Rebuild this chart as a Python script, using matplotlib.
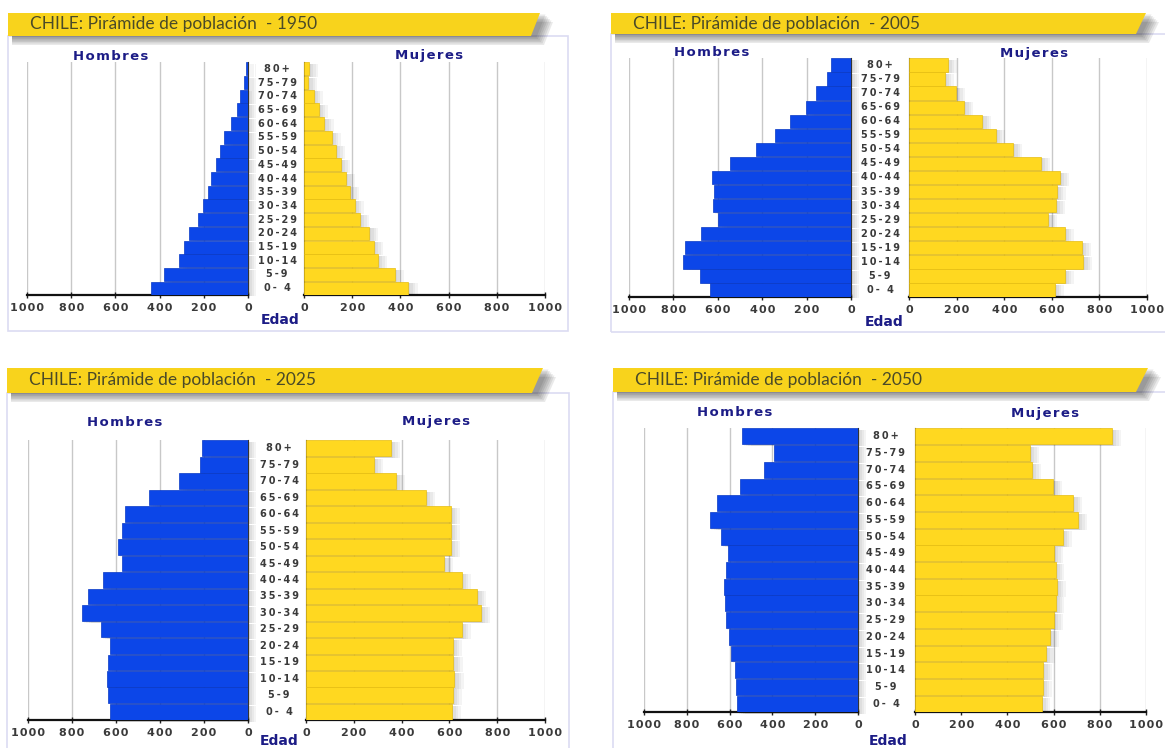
import numpy as np
import matplotlib.pyplot as plt
from matplotlib.patches import Polygon, Rectangle
from matplotlib.transforms import blended_transform_factory

# Grupos de edad (de abajo hacia arriba)
edades = ['0- 4', '5-9', '10-14', '15-19', '20-24', '25-29', '30-34', '35-39', '40-44',
          '45-49', '50-54', '55-59', '60-64', '65-69', '70-74', '75-79', '80+']

# Poblacion en miles
hombres_1950 = [439, 382, 314, 288, 268, 228, 205, 179, 167, 145, 128, 107, 75, 50, 34, 20, 8]
mujeres_1950 = [433, 376, 307, 290, 271, 232, 210, 190, 175, 153, 133, 115, 85, 61, 40, 18, 20]

hombres_2005 = [634, 679, 756, 749, 674, 598, 622, 619, 625, 545, 426, 344, 277, 204, 159, 106, 88]
mujeres_2005 = [612, 654, 733, 727, 654, 584, 617, 621, 634, 554, 438, 364, 308, 233, 198, 150, 162]

hombres_2025 = [626, 637, 642, 637, 628, 668, 753, 728, 659, 574, 590, 574, 561, 450, 314, 216, 208]
mujeres_2025 = [609, 614, 621, 617, 614, 651, 732, 717, 651, 579, 606, 605, 605, 502, 375, 284, 355]

hombres_2050 = [565, 570, 577, 593, 603, 618, 623, 628, 617, 608, 640, 693, 657, 553, 437, 392, 540]
mujeres_2050 = [548, 553, 556, 568, 586, 602, 609, 614, 609, 602, 640, 706, 686, 599, 507, 498, 854]

anios = ['1950', '2005', '2025', '2050']
hombres = [hombres_1950, hombres_2005, hombres_2025, hombres_2050]
mujeres = [mujeres_1950, mujeres_2005, mujeres_2025, mujeres_2050]

ticks = [0, 200, 400, 600, 800, 1000]
tick_labels = ['0', '200', '400', '600', '800', '1000']

# Posiciones en pixeles de cada panel
# ban: banner (x0, y0, y1, x derecha arriba, x derecha abajo), box: marco (x1, y1),
# hx / mx: ejes hombres / mujeres (x0, x1), ys: ejes (ytop, ybot), xe: x de las edades,
# lh / lm / ed: posicion de Hombres / Mujeres / Edad
layout = [
    dict(ban=(8, 13, 36, 540, 531), box=(568, 331), hx=(27, 248), mx=(304, 545), ys=(62, 295),
         xe=277, lh=(111, 56), lm=(429, 56), ed=(280, 320)),
    dict(ban=(611, 13, 34, 1146, 1136), box=(1175, 332), hx=(629, 851), mx=(909, 1147), ys=(58, 297),
         xe=880, lh=(712, 53), lm=(1034, 53), ed=(884, 322)),
    dict(ban=(7, 368, 393, 543, 532), box=(569, 760), hx=(28, 248), mx=(306, 545), ys=(440, 720),
         xe=279, lh=(125, 422), lm=(436, 422), ed=(279, 741)),
    dict(ban=(613, 368, 392, 1148, 1136), box=(1175, 760), hx=(644, 858), mx=(915, 1146), ys=(428, 712),
         xe=886, lh=(735, 413), lm=(1045, 413), ed=(888, 741)),
]

W, H = 1165, 748
fig = plt.figure(figsize=(W / 100, H / 100), dpi=100)
fig.patch.set_facecolor('white')


def fx(x):
    return x / W


def fy(y):
    return 1 - y / H


def spaced(s, sep='\u2009'):
    return sep.join(s)


def poly(pts, **kw):
    p = Polygon([(fx(a), fy(b)) for a, b in pts], closed=True, transform=fig.transFigure, lw=0, **kw)
    fig.patches.append(p)


azul = '#0c46e8'
amarillo = '#ffd820'
y = np.arange(len(edades))

for i, lay in enumerate(layout):
    x0, y0, y1, xrt, xrb = lay['ban']

    # marco del panel
    bx1, by1 = lay['box']
    fig.patches.append(Rectangle((fx(x0), fy(by1)), fx(bx1 - x0), fy(y1) - fy(by1), transform=fig.transFigure,
                                 facecolor='none', edgecolor='#dcdcf2', lw=1.2))

    # sombra del banner
    for k in range(6):
        d = 1.5 * (k + 1)
        poly([(x0 + 4, y0 + d), (xrt + d + 4, y0 + d), (xrb + d + 4, y1 + d), (x0 + 4, y1 + d)],
             color='#303030', alpha=0.10)
    poly([(x0, y0), (xrt, y0), (xrb, y1), (x0, y1)], color='#f8d31c')
    fig.text(fx(x0 + 22), fy((y0 + y1) / 2), 'CHILE: Pirámide de población  - ' + anios[i],
             fontsize=12.5, color='#4a4a28', va='center', ha='left', family='Lato')

    ytop, ybot = lay['ys']
    for lado in ['h', 'm']:
        if lado == 'h':
            ax0, ax1 = lay['hx']
            vals = hombres[i]
            col, edge = azul, '#0838c4'
        else:
            ax0, ax1 = lay['mx']
            vals = mujeres[i]
            col, edge = amarillo, '#e6bd10'
        ax = fig.add_axes([fx(ax0), fy(ybot), fx(ax1 - ax0), fy(ytop) - fy(ybot)])
        ax.patch.set_alpha(0)

        # sombras de las barras
        for k in range(4):
            off = 8 + 10 * k
            if lado == 'h':
                ax.barh(y - 0.12, vals, left=-off, height=0.95, color='#000000', alpha=0.045,
                        lw=0, zorder=2, clip_on=False)
            else:
                ax.barh(y - 0.12, np.array(vals) + off, height=0.95, color='#000000', alpha=0.045,
                        lw=0, zorder=2)

        ax.barh(y, vals, height=0.95, color=col, edgecolor=edge, lw=0.5, zorder=3)

        ax.set_ylim(-0.5, 16.5)
        if lado == 'h':
            ax.set_xlim(1000, 0)
        else:
            ax.set_xlim(0, 1000)
        ax.set_yticks([])
        ax.set_xticks(ticks)
        ax.set_xticklabels([spaced(t, '\u200a') for t in tick_labels], fontsize=8, fontweight='bold',
                           color='#3a3a3a')
        ax.tick_params(axis='x', direction='inout', length=5, width=1, pad=3, color='#222222')
        ax.grid(axis='x', color='#c8c8c8', lw=1)
        ax.set_axisbelow(True)
        for s in ['top', 'left', 'right']:
            ax.spines[s].set_visible(False)
        ax.spines['bottom'].set_linewidth(1.6)
        ax.spines['bottom'].set_color('#111111')
        if lado == 'h':
            ax.spines['right'].set_visible(True)
            ax.spines['right'].set_color('#333333')
            ax_h = ax
        else:
            ax.spines['left'].set_visible(True)
            ax.spines['left'].set_color('#333333')
            ax.spines['left'].set_linewidth(0.8)

    # etiquetas de edad
    trans = blended_transform_factory(fig.transFigure, ax_h.transData)
    for j, lab in enumerate(edades):
        ax_h.text(fx(lay['xe']), j, spaced(lab), transform=trans, ha='center', va='center',
                  fontsize=7, fontweight='bold', color='#3a3a3a', clip_on=False)

    fig.text(fx(lay['lh'][0]), fy(lay['lh'][1]), spaced('Hombres', '\u200a'), ha='center', va='center',
             fontsize=9.5, fontweight='bold', color='#1c1c86')
    fig.text(fx(lay['lm'][0]), fy(lay['lm'][1]), spaced('Mujeres', '\u200a'), ha='center', va='center',
             fontsize=9.5, fontweight='bold', color='#1c1c86')
    fig.text(fx(lay['ed'][0]), fy(lay['ed'][1]), 'Edad', ha='center', va='center',
             fontsize=10, fontweight='bold', color='#1c1c86')

plt.savefig('out.png', dpi=100)
